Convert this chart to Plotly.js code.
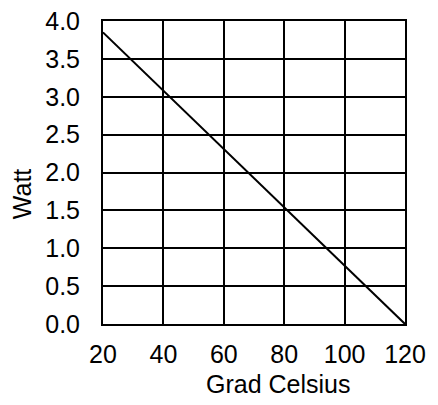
<!DOCTYPE html>
<html>
<head>
<meta charset="utf-8">
<script src="https://cdn.plot.ly/plotly-3.0.1.min.js"></script>
<style>html,body{margin:0;padding:0;background:#fff;}#chart{width:438px;height:405px;}</style>
</head>
<body>
<div id="chart"></div>
<script>
const tempC = [20, 120];
const watt = [3.85, 0.0];
const xTitle = 'Grad Celsius';
const yTitle = 'Watt';

const fontFam = '"Liberation Sans", Arial, sans-serif';

Plotly.newPlot('chart', [{
  x: tempC, y: watt, type: 'scatter', mode: 'lines',
  line: {color: '#000', width: 2}, hoverinfo: 'skip'
}], {
  width: 438, height: 405,
  margin: {l: 103, r: 33, t: 21, b: 81},
  paper_bgcolor: '#fff', plot_bgcolor: '#fff',
  showlegend: false,
  font: {family: fontFam, size: 25, color: '#000'},
  xaxis: {
    range: [20, 120], tickmode: 'linear', tick0: 20, dtick: 20,
    showgrid: true, gridcolor: '#000', gridwidth: 2,
    showline: true, linecolor: '#000', linewidth: 2, mirror: true,
    zeroline: false, ticks: '', ticklabelstandoff: 7,
    tickfont: {family: fontFam, size: 25, color: '#000'}
  },
  yaxis: {
    range: [0, 4], tickmode: 'linear', tick0: 0, dtick: 0.5, tickformat: '.1f',
    showgrid: true, gridcolor: '#000', gridwidth: 2,
    showline: true, linecolor: '#000', linewidth: 2, mirror: true,
    zeroline: false, ticks: '', ticklabelstandoff: 16,
    tickfont: {family: fontFam, size: 25, color: '#000'}
  },
  annotations: [
    {text: xTitle, xref: 'paper', yref: 'paper', x: 0.58, y: -0.198, xanchor: 'center', yanchor: 'middle',
     showarrow: false, font: {family: fontFam, size: 25, color: '#000'}},
    {text: yTitle, xref: 'paper', yref: 'paper', x: -0.27, y: 0.43, xanchor: 'center', yanchor: 'middle',
     textangle: -90, showarrow: false, font: {family: fontFam, size: 25, color: '#000'}}
  ]
}, {displayModeBar: false, staticPlot: true});
</script>
</body>
</html>
